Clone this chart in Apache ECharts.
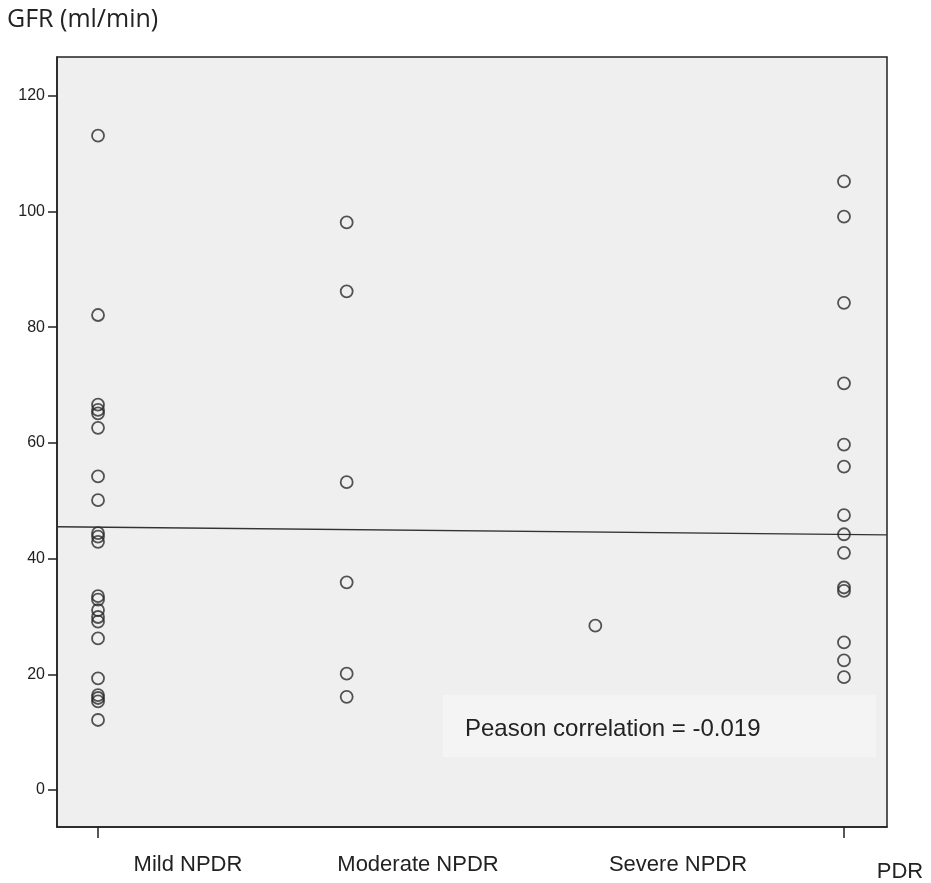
<!DOCTYPE html>
<html>
<head>
<meta charset="utf-8">
<script src="https://cdn.jsdelivr.net/npm/echarts@6/dist/echarts.min.js"></script>
<style>
  html, body { margin: 0; padding: 0; background: #fff; }
  #chart { width: 931px; height: 883px; }
</style>
</head>
<body>
<div id="chart"></div>
<script>
// categories on a 1..4 numeric axis
const categories = ['Mild NPDR', 'Moderate NPDR', 'Severe NPDR', 'PDR']
const mildGfr = [113.1, 82.1, 66.6, 65.7, 65.1, 62.6, 54.2, 50.1, 44.4, 43.8, 42.9,
  33.5, 32.9, 31.1, 29.9, 29.1, 26.2, 19.3, 16.4, 15.9, 15.3, 12.1]
const moderateGfr = [98.1, 86.2, 53.2, 35.9, 20.1, 16.1]
const severeGfr = [28.4]
const pdrGfr = [105.2, 99.1, 84.2, 70.3, 59.7, 55.9, 47.5, 44.2, 41.0, 35.0, 34.4, 25.5, 22.4, 19.5]
const yTicks = [0, 20, 40, 60, 80, 100, 120]
const xTicks = [1, 4]
// fit line end points (x at axis edges)
const fitX = [0.835, 4.173]
const fitY = [45.5, 44.1]

const groups = [mildGfr, moderateGfr, severeGfr, pdrGfr]
const points = []
groups.forEach((g, i) => g.forEach(v => points.push([i + 1, v])))

const catFont = '22px "Liberation Sans", Arial, sans-serif'
const catText = (name, x, y) => ({
  type: 'text', x, y,
  style: { text: name, fill: '#222', align: 'center', verticalAlign: 'middle', font: catFont }
})

const chart = echarts.init(document.getElementById('chart'))
chart.setOption({
  animation: false,
  backgroundColor: '#fff',
  grid: {
    left: 57, right: 44, top: 57, bottom: 56,
    show: true, backgroundColor: '#efefef', borderColor: '#222', borderWidth: 1.5
  },
  xAxis: {
    type: 'value', min: fitX[0], max: fitX[1],
    splitLine: { show: false },
    axisLine: { show: true, onZero: false, lineStyle: { color: '#222', width: 1.5 } },
    axisTick: { show: true, customValues: xTicks, length: 11, lineStyle: { color: '#222', width: 1.5 } },
    axisLabel: { show: false }
  },
  yAxis: {
    type: 'value', min: -6.4, max: 126.7,
    splitLine: { show: false },
    axisLine: { show: true, lineStyle: { color: '#222', width: 1.5 } },
    axisTick: { show: true, customValues: yTicks, length: 9, lineStyle: { color: '#222', width: 1.5 } },
    axisLabel: { customValues: yTicks, color: '#222', fontSize: 16, fontFamily: 'Liberation Sans, Arial', margin: 12 }
  },
  graphic: [
    { type: 'text', left: 7, top: 7, style: { text: 'GFR (ml/min)', fill: '#222', font: '25px "Open Sans", "Noto Sans", sans-serif' } },
    { type: 'rect', left: 443, top: 695, shape: { width: 433, height: 62 }, style: { fill: '#f4f4f4' }, z: 1 },
    { type: 'text', x: 465, y: 729, z: 5, style: { text: 'Peason correlation = -0.019', fill: '#222', verticalAlign: 'middle', font: '24px "Liberation Sans", Arial, sans-serif' } },
    catText(categories[0], 188, 865),
    catText(categories[1], 418, 865),
    catText(categories[2], 678, 865),
    catText(categories[3], 900, 872)
  ],
  series: [
    {
      type: 'scatter',
      data: points,
      symbol: 'circle',
      symbolSize: 12,
      z: 3,
      itemStyle: { color: 'rgba(0,0,0,0)', borderColor: '#2a2a2a', borderWidth: 1.8 }
    },
    {
      type: 'line',
      data: [[fitX[0], fitY[0]], [fitX[1], fitY[1]]],
      symbol: 'none',
      z: 2,
      lineStyle: { color: '#333', width: 1.3 }
    }
  ]
})
</script>
</body>
</html>
